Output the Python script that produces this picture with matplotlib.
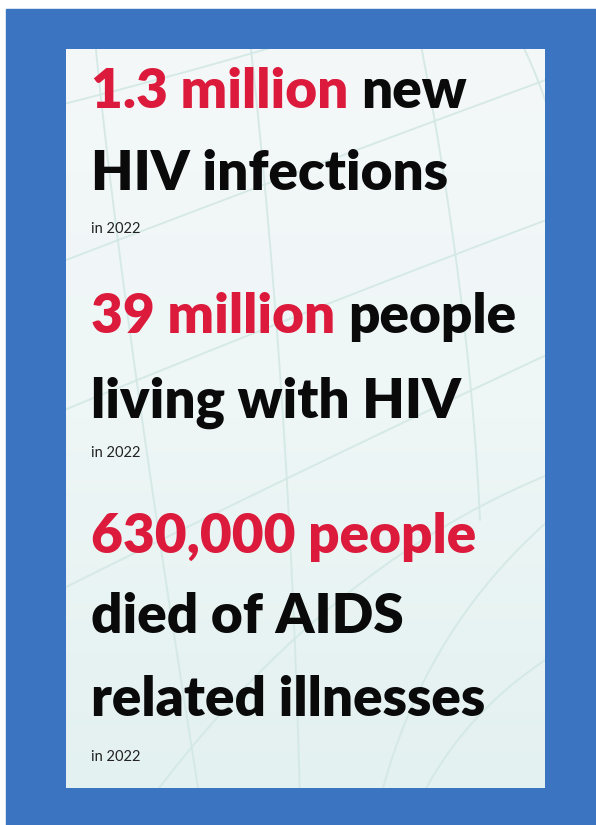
import matplotlib
matplotlib.use("Agg")
import matplotlib.pyplot as plt
import numpy as np
from matplotlib.patches import Rectangle
from matplotlib.colors import LinearSegmentedColormap

# ---- content ----
stat_values = ["1.3 million", "39 million", "630,000 people"]
stat_tail = [" new", " people", ""]
stat_lines = [["HIV infections"], ["living with HIV"], ["died of AIDS", "related illnesses"]]
year_labels = ["in 2022", "in 2022", "in 2022"]

# ---- layout (pixels) ----
W, H = 596, 825
RED = "#DC1A3C"
BLUE = "#3B74C1"
INK = "#0A0A0A"
BIG = 39.5
SMALL = 10.5
X0 = 91
baselines = [[108, 190], [333, 418], [553, 633, 716]]
year_base = [233, 457, 761]

fig = plt.figure(figsize=(W / 100, H / 100), dpi=100)
fig.patch.set_facecolor("white")
ax = fig.add_axes([0, 0, 1, 1])
ax.set_xlim(0, W)
ax.set_ylim(H, 0)
ax.axis("off")

# blue frame
ax.add_patch(Rectangle((6, 9), W - 6, H - 9, color=BLUE, zorder=0))

# inner panel with soft gradient
pl, pr, pt, pb = 66, 545, 49, 788
grad = np.linspace(0, 1, 256).reshape(-1, 1)
cmap = LinearSegmentedColormap.from_list("bg", ["#F4F8F9", "#EEF6F6", "#E3F1F0"])
ax.imshow(grad, extent=(pl, pr, pb, pt), cmap=cmap, aspect="auto", zorder=1,
          interpolation="bicubic")
clip = Rectangle((pl, pt), pr - pl, pb - pt, transform=ax.transData, fill=False)

# faint globe lines
t = np.linspace(0, 1, 200)
def curve(p0, p1, p2):
    x = (1 - t) ** 2 * p0[0] + 2 * (1 - t) * t * p1[0] + t ** 2 * p2[0]
    y = (1 - t) ** 2 * p0[1] + 2 * (1 - t) * t * p1[1] + t ** 2 * p2[1]
    return x, y
globe = [
    ((95, 40), (120, 300), (200, 800)),
    ((250, 40), (290, 400), (300, 800)),
    ((420, 40), (470, 300), (480, 520)),
    ((520, 40), (600, 200), (560, 420)),
    ((40, 110), (200, 70), (330, 30)),
    ((40, 270), (300, 170), (600, 60)),
    ((40, 420), (330, 300), (600, 200)),
    ((40, 600), (320, 460), (600, 330)),
    ((150, 800), (330, 560), (560, 470)),
    ((380, 800), (430, 600), (600, 480)),
    ((620, 620), (480, 680), (420, 800)),
]
for p0, p1, p2 in globe:
    x, y = curve(p0, p1, p2)
    ln, = ax.plot(x, y, color="#D3E8E5", lw=1.4, alpha=0.9, zorder=2,
                  solid_capstyle="round")
    ln.set_clip_path(clip)

big = dict(family=["Lato", "DejaVu Sans"], fontweight="heavy", fontsize=BIG, va="baseline")
fig.canvas.draw()
renderer = fig.canvas.get_renderer()

def width_of(s):
    tmp = ax.text(X0, 100, s, **big, ha="left")
    bb = tmp.get_window_extent(renderer)
    tmp.remove()
    return bb.width

for i in range(3):
    lines = baselines[i]
    first = stat_values[i] + stat_tail[i]
    ax.text(X0, lines[0], stat_values[i], color=RED, ha="left", zorder=5, **big)
    if stat_tail[i]:
        full_w = width_of(first)
        ax.text(X0 + full_w, lines[0], stat_tail[i].strip(), color=INK, ha="right",
                zorder=5, **big)
    for yb, s in zip(lines[1:], stat_lines[i]):
        ax.text(X0, yb, s, color=INK, ha="left", zorder=5, **big)
    ax.text(X0, year_base[i], year_labels[i], color="#222222", ha="left", va="baseline",
            family=["Lato", "DejaVu Sans"], fontsize=SMALL, zorder=5)

fig.savefig("out.png", dpi=100, facecolor="white")
